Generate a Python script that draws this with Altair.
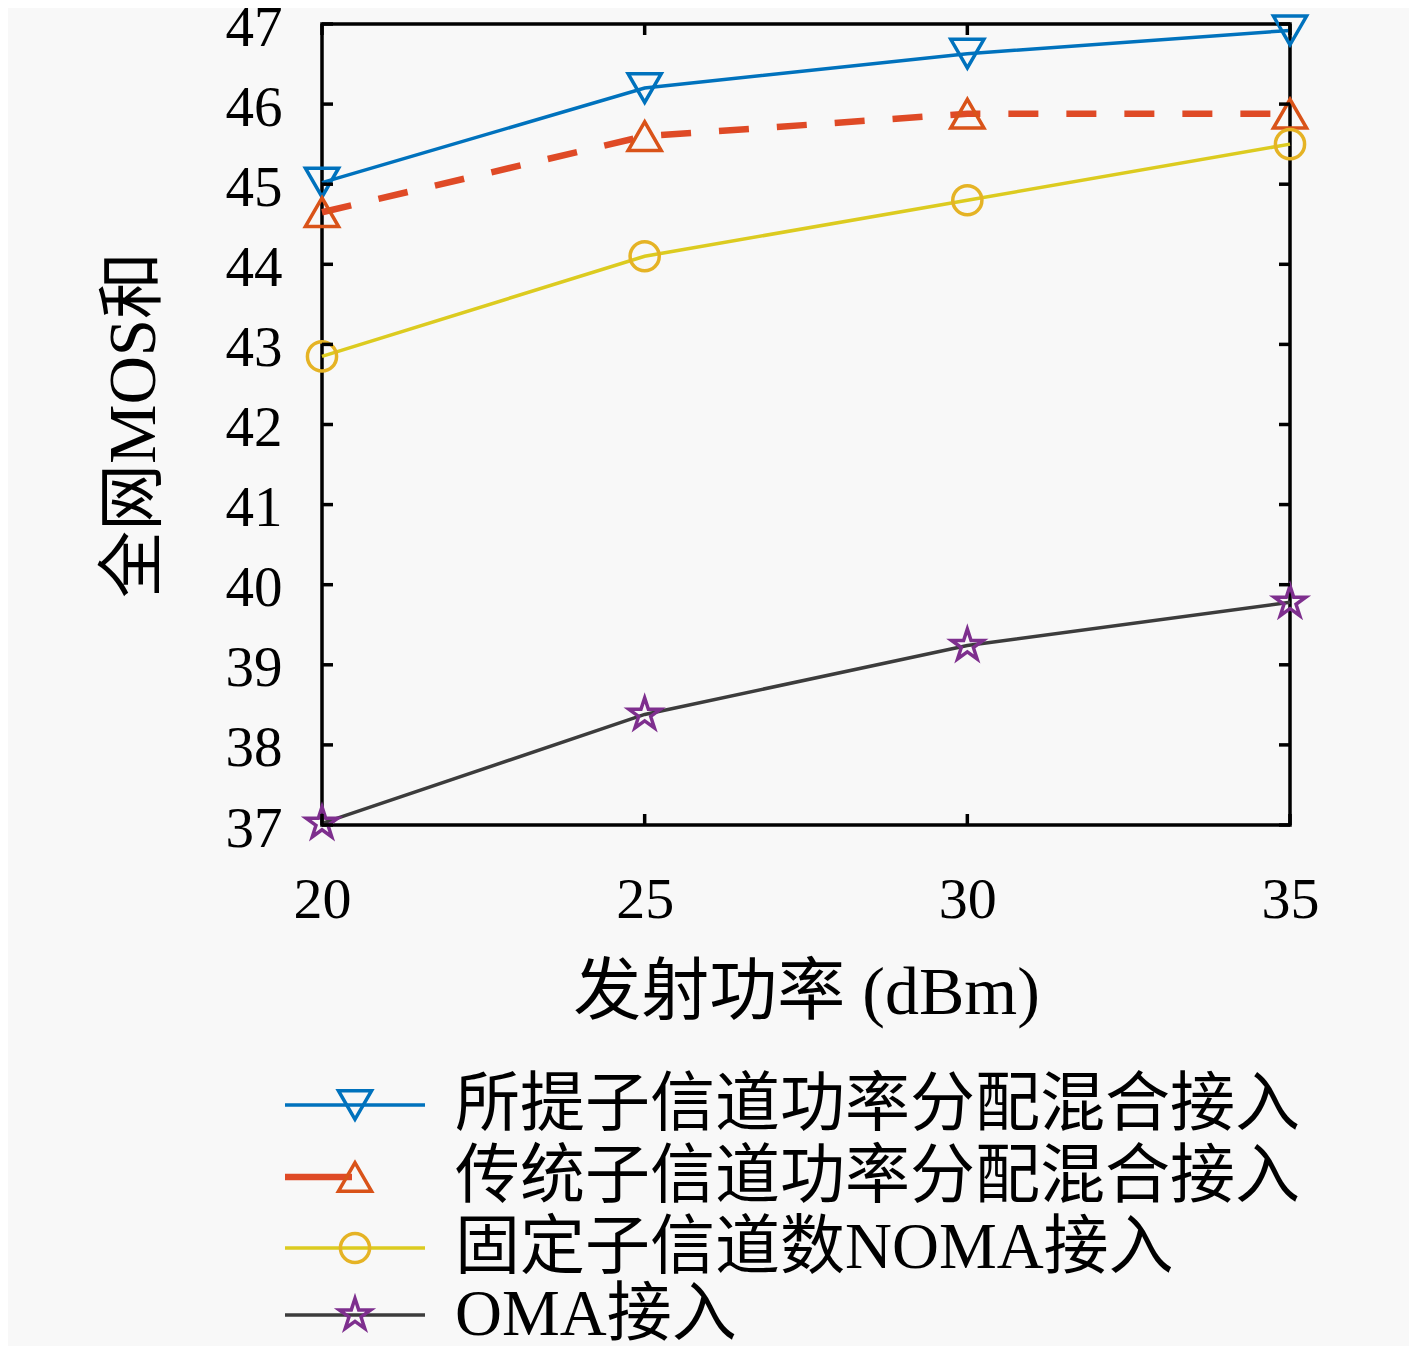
import altair as alt
import pandas as pd

# ---- data ----
power = [20, 25, 30, 35]
proposed = [45.02, 46.2, 46.63, 46.92]
traditional = [44.65, 45.6, 45.88, 45.88]
fixed_noma = [42.85, 44.1, 44.8, 45.5]
oma = [37.02, 38.38, 39.24, 39.78]

series_names = [
    "所提子信道功率分配混合接入",
    "传统子信道功率分配混合接入",
    "固定子信道数NOMA接入",
    "OMA接入",
]
x_ticks = [20, 25, 30, 35]
y_ticks = [37, 38, 39, 40, 41, 42, 43, 44, 45, 46, 47]

W, H = 968, 801
TOP = 16
FONT = "Liberation Serif, Noto Sans CJK SC"
BG = "#f8f8f8"
STAR = ("M0,-1L0.2245,-0.309L0.951,-0.309L0.3633,0.118L0.588,0.809L0,0.382"
        "L-0.588,0.809L-0.3633,0.118L-0.951,-0.309L-0.2245,-0.309Z")

xs = alt.Scale(domain=[20, 35], nice=False, zero=False)
ys = alt.Scale(domain=[37, 47], nice=False, zero=False)

x_axis = alt.Axis(values=x_ticks, ticks=False, domain=False, grid=False,
                  format="d", labelFont=FONT, labelFontSize=58, labelColor="black",
                  labelPadding=46, title="发射功率 (dBm)", titleFont=FONT,
                  titleFontSize=68, titleFontWeight="normal", titleColor="black",
                  titlePadding=30, labelFlush=False)
y_axis = alt.Axis(values=y_ticks, ticks=False, domain=False, grid=False,
                  format="d", labelFont=FONT, labelFontSize=57, labelColor="black",
                  labelPadding=40, labelOffset=4, title="全网MOS和", titleFont=FONT,
                  titleFontSize=67, titleFontWeight="normal", titleColor="black",
                  titlePadding=57, labelFlush=False)

SW = 3.5
styles = [
    # values, line color, marker color, shape, line width, dash, marker size
    (proposed, "#0072BD", "#0072BD", "triangle-down", SW, None, 1100),
    (traditional, "#DF4A26", "#D95319", "triangle-up", 6.5, [30, 28], 1100),
    (fixed_noma, "#DCCB20", "#E5B325", "circle", SW, None, 850),
    (oma, "#3c3c3c", "#7E2F8E", STAR, SW, None, 1100),
]

layers = []
for vals, lc, mc, shape, lw, dash, msize in styles:
    df = pd.DataFrame({"p": power, "v": vals})
    base = alt.Chart(df).encode(
        x=alt.X("p:Q", scale=xs, axis=x_axis),
        y=alt.Y("v:Q", scale=ys, axis=y_axis),
    )
    if dash:
        line = base.mark_line(color=lc, strokeWidth=lw, strokeDash=dash)
    else:
        line = base.mark_line(color=lc, strokeWidth=lw)
    pts = base.mark_point(shape=shape, color=mc, size=msize,
                          strokeWidth=SW, filled=False, opacity=1)
    layers += [line, pts]

# inward ticks on all four sides
tl = 11
ydf = pd.DataFrame({"t": y_ticks})
xdf = pd.DataFrame({"t": x_ticks})
layers += [
    alt.Chart(ydf).mark_rule(color="black", strokeWidth=SW).encode(
        y=alt.Y("t:Q", scale=ys, axis=y_axis), x=alt.value(0), x2=alt.value(tl)),
    alt.Chart(ydf).mark_rule(color="black", strokeWidth=SW).encode(
        y=alt.Y("t:Q", scale=ys, axis=y_axis), x=alt.value(W - tl), x2=alt.value(W)),
    alt.Chart(xdf).mark_rule(color="black", strokeWidth=SW).encode(
        x=alt.X("t:Q", scale=xs, axis=x_axis), y=alt.value(H - tl), y2=alt.value(H)),
    alt.Chart(xdf).mark_rule(color="black", strokeWidth=SW).encode(
        x=alt.X("t:Q", scale=xs, axis=x_axis), y=alt.value(0), y2=alt.value(tl)),
]

# ---- manual legend below the plot (pixel rows, relative to plot top) ----
row_y = [1081, 1153, 1224, 1291]
for i, (vals, lc, mc, shape, lw, dash, msize) in enumerate(styles):
    ldf = pd.DataFrame({"label": [series_names[i]]})
    lb = alt.Chart(ldf)
    x2 = 30 if dash else 103
    layers.append(lb.mark_rule(color=lc, strokeWidth=lw).encode(
        x=alt.value(-37), x2=alt.value(x2), y=alt.value(row_y[i])))
    layers.append(lb.mark_point(shape=shape, color=mc, size=msize,
                                strokeWidth=SW, filled=False, opacity=1).encode(
        x=alt.value(33), y=alt.value(row_y[i])))
    layers.append(lb.mark_text(align="left", baseline="middle", font=FONT,
                               fontSize=65, color="black").encode(
        x=alt.value(133), y=alt.value(row_y[i]), text="label:N"))

chart = alt.layer(*layers).properties(
    width=W, height=H, background=BG,
    autosize=alt.AutoSizeParams(type="none"),
    padding={"left": 314, "top": TOP, "right": 119, "bottom": 521},
).configure_view(stroke="black", strokeWidth=SW)

chart.save("out.html", embed_options={"renderer": "svg", "actions": False})
